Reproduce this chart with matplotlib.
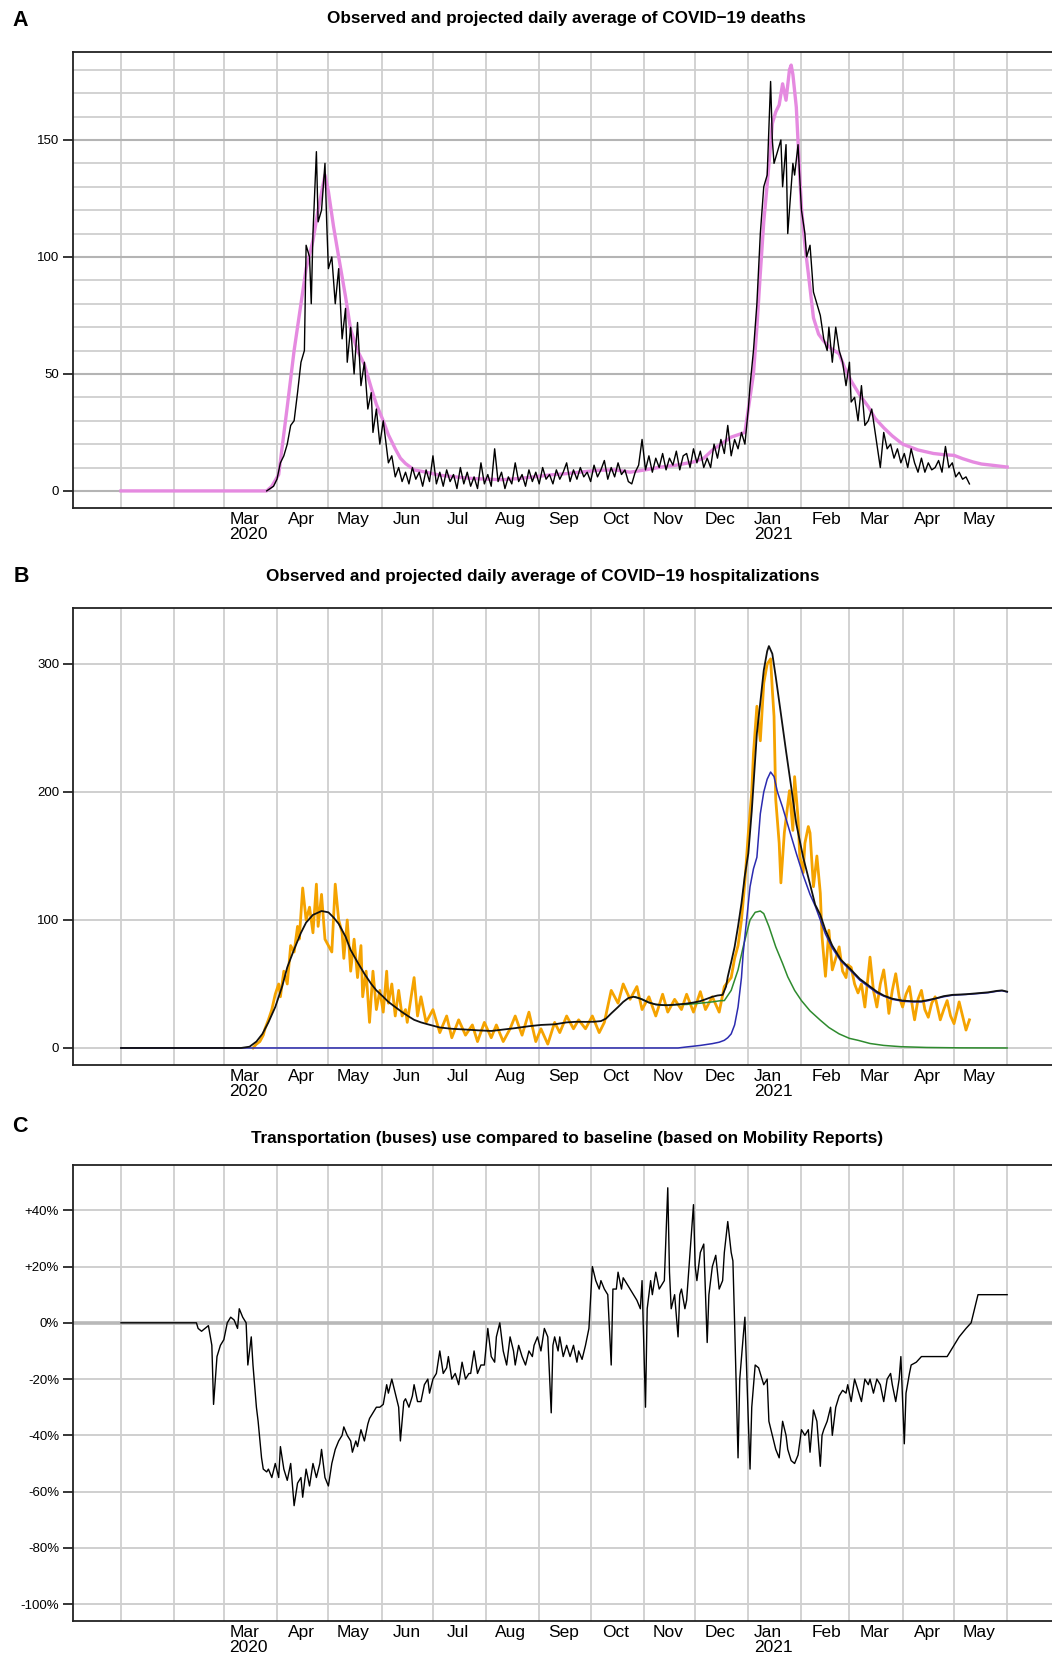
import numpy as np
import matplotlib
matplotlib.use('Agg')
import matplotlib.pyplot as plt
import matplotlib.dates as mdates

plt.rcParams['font.family'] = ['Liberation Sans', 'DejaVu Sans']

# ---------------- DATA (day offsets from 2020-01-01) ----------------
deaths_obs_day = [85, 87, 89, 91, 93, 95, 97, 99, 101, 103, 105, 107, 108, 110, 111, 112, 114, 115, 117, 119,
                  120, 121, 123, 125, 127, 129, 131, 132, 134, 136, 138, 140, 142, 144, 146, 147, 149, 151, 153, 155,
                  156, 158, 160, 162, 164, 166, 168, 170, 172, 174, 176, 178, 180, 182, 184, 186, 188, 190, 192, 194,
                  196, 198, 200, 202, 204, 206, 208, 210, 212, 214, 216, 218, 220, 222, 224, 226, 228, 230, 232, 234,
                  236, 238, 240, 242, 244, 246, 248, 250, 252, 254, 256, 258, 260, 262, 264, 266, 268, 270, 272, 274,
                  276, 278, 280, 282, 284, 286, 288, 290, 292, 294, 296, 298, 300, 302, 304, 306, 308, 310, 312, 314,
                  316, 318, 320, 322, 324, 326, 328, 330, 332, 334, 336, 338, 340, 342, 344, 346, 348, 350, 352, 354,
                  356, 358, 360, 362, 364, 366, 367, 369, 371, 373, 375, 377, 379, 380, 381, 383, 385, 386, 388, 389,
                  390, 392, 393, 395, 397, 399, 400, 402, 404, 406, 408, 410, 412, 413, 415, 417, 419, 421, 423, 425,
                  426, 428, 430, 432, 434, 436, 438, 440, 441, 443, 445, 447, 449, 451, 453, 455, 457, 459, 461, 463,
                  465, 467, 469, 471, 473, 475, 477, 479, 481, 483, 485, 487, 489, 491, 493, 495]
deaths_obs_val = [0, 1, 2, 5, 12, 15, 20, 28, 30, 42, 55, 60, 105, 100, 80, 110, 145, 115, 120, 140,
                  115, 95, 100, 80, 95, 65, 78, 55, 70, 50, 72, 45, 55, 35, 42, 25, 35, 20, 30, 18,
                  12, 15, 6, 10, 4, 8, 3, 10, 5, 8, 2, 9, 4, 15, 3, 8, 2, 9, 4, 7,
                  1, 10, 3, 8, 2, 6, 1, 12, 3, 7, 2, 18, 4, 8, 1, 6, 3, 12, 4, 7,
                  2, 9, 4, 8, 3, 10, 5, 7, 3, 9, 5, 8, 12, 4, 9, 5, 10, 6, 8, 4,
                  11, 6, 9, 13, 5, 10, 6, 12, 7, 9, 4, 3, 8, 11, 22, 9, 15, 8, 14, 10,
                  16, 9, 14, 11, 17, 9, 15, 16, 10, 18, 12, 17, 10, 14, 10, 20, 14, 22, 16, 28,
                  15, 22, 18, 25, 20, 35, 45, 60, 80, 110, 130, 135, 175, 150, 140, 145, 150, 130, 148, 110,
                  120, 140, 135, 148, 120, 110, 100, 105, 85, 80, 75, 65, 60, 70, 55, 70, 60, 55, 45, 55,
                  38, 40, 30, 45, 28, 30, 35, 25, 20, 10, 25, 18, 20, 14, 18, 12, 16, 10, 18, 12,
                  8, 14, 8, 12, 9, 10, 13, 8, 19, 10, 12, 6, 8, 5, 6, 3]

deaths_proj_day = [0, 85, 88, 92, 97, 101, 105, 108, 112, 115, 119, 121, 124, 127, 131, 134, 138, 142, 146, 149,
                   153, 156, 160, 163, 166, 171, 178, 186, 195, 205, 214, 223, 232, 241, 250, 260, 270, 278, 288, 297,
                   306, 315, 324, 334, 340, 345, 350, 356, 360, 364, 366, 369, 371, 373, 375, 377, 379, 380, 382, 384,
                   386, 388, 390, 391, 392, 394, 396, 397, 399, 401, 404, 407, 410, 414, 419, 422, 426, 431, 436, 440,
                   445, 450, 456, 465, 474, 480, 486, 491, 497, 502, 508, 517]
deaths_proj_val = [0, 0, 2, 7, 36, 60, 80, 95, 107, 120, 135, 128, 113, 100, 83, 69, 60, 54, 44, 37,
                   30, 24, 18, 14, 11.7, 9, 8, 6.7, 6, 5.3, 5, 4.8, 5.3, 6, 6.8, 7.4, 8.2, 8.8, 9, 8,
                   9, 10.2, 11, 12.4, 14, 17.4, 20, 23, 24, 25, 35, 50, 70, 93, 115, 131, 148, 157, 162, 165,
                   174, 167, 180, 182, 178, 164, 135, 121, 105, 93, 74, 67, 64, 61, 58.6, 53, 47, 41, 36, 31,
                   27, 23.5, 20, 17.5, 16, 15.5, 15.2, 13.8, 12.4, 11.5, 11, 10.2]

hosp_obs_day = [77, 79, 81, 83, 84, 86, 88, 90, 92, 93, 95, 97, 99, 101, 103, 104, 106, 108, 110, 112,
                114, 115, 117, 119, 121, 123, 125, 127, 129, 130, 132, 134, 136, 138, 140, 141, 143, 145, 147, 149,
                151, 153, 155, 156, 158, 160, 162, 164, 166, 167, 171, 173, 175, 178, 182, 186, 190, 193, 197, 201,
                205, 208, 212, 216, 219, 223, 227, 230, 234, 238, 242, 245, 249, 253, 256, 260, 264, 267, 271, 275,
                279, 282, 286, 290, 293, 297, 301, 304, 308, 312, 316, 319, 323, 327, 330, 334, 338, 341, 345, 349,
                352, 356, 358, 360, 362, 364, 366, 368, 369, 371, 373, 375, 377, 379, 380, 381, 382, 384, 385, 387,
                390, 392, 393, 395, 396, 398, 399, 401, 402, 404, 406, 408, 409, 411, 413, 415, 417, 419, 421, 423,
                424, 426, 428, 430, 432, 434, 437, 439, 441, 443, 445, 447, 448, 450, 452, 454, 456, 458, 460, 462,
                463, 465, 467, 469, 471, 473, 475, 477, 478, 480, 482, 484, 486, 488, 489, 491, 493, 495]
hosp_obs_val = [0, 3, 5, 10, 15, 22, 30, 42, 50, 40, 60, 50, 80, 75, 95, 85, 125, 100, 110, 90,
                128, 95, 120, 85, 80, 75, 128, 100, 90, 70, 100, 60, 85, 55, 80, 40, 60, 20, 60, 30,
                45, 28, 60, 35, 50, 25, 45, 25, 30, 20, 55, 25, 40, 20, 30, 12, 25, 8, 22, 10,
                18, 5, 20, 8, 18, 5, 15, 25, 10, 28, 5, 15, 3, 20, 12, 25, 15, 22, 15, 25,
                12, 20, 45, 35, 50, 38, 48, 30, 40, 25, 42, 28, 38, 30, 42, 28, 44, 30, 40, 28,
                48, 55, 70, 80, 100, 130, 168, 200, 230, 267, 240, 285, 300, 304, 280, 259, 194, 160, 129, 168,
                201, 170, 212, 180, 150, 137, 160, 173, 168, 126, 150, 121, 87, 56, 92, 61, 70, 79, 60, 55,
                65, 63, 50, 43, 50, 32, 71, 45, 32, 50, 61, 40, 27, 45, 58, 40, 32, 42, 48, 30,
                22, 38, 45, 30, 24, 35, 40, 28, 22, 30, 37, 25, 19, 30, 36, 25, 14, 22]

hosp_total_day = [0, 70, 75, 79, 82.5, 86, 90, 94, 97, 101, 105, 108, 112, 117, 121, 124, 127, 131, 134, 138,
                  142, 146, 149, 153, 156, 160, 164, 168, 171, 175, 179, 186, 193, 201, 208, 216, 223, 230, 238, 245,
                  253, 260, 266, 271, 276, 280, 283, 286, 290, 293, 296, 299, 302, 304, 308, 312, 316, 319, 325, 330,
                  334, 338, 342, 345, 348, 351, 353, 354, 356, 358, 360, 362, 364, 366, 368, 371, 373, 375, 377, 378,
                  380, 382, 384.5, 388, 391, 394, 398, 402, 405, 408, 411, 415, 420, 426, 431, 437, 441, 445, 450, 456,
                  462, 467, 471, 475, 480, 485, 493, 500, 506, 511, 514, 517]
hosp_total_val = [0, 0, 1, 5, 11, 20, 32, 48, 63, 77, 90, 98, 104, 107, 106, 102, 97, 87, 76.5, 67,
                  58, 50, 45, 40, 36, 32, 28, 24.5, 22, 20, 18.5, 16, 15, 14.4, 13.8, 13.3, 14.4, 15.5, 17, 18,
                  18.5, 20, 20.5, 20.4, 20.5, 21, 23, 27, 32, 36, 39, 40, 39, 38, 35.5, 34, 33.5, 33.4, 34, 34.7,
                  35.5, 36.6, 38.5, 40, 41, 41.5, 48, 55.6, 67, 79, 95, 113, 135, 152, 185, 246, 270, 295, 310, 314,
                  308, 290, 266, 232, 204, 175, 149, 128, 112, 104, 92, 80, 69, 61, 54, 48, 44, 41, 38.5, 37,
                  36.5, 36.5, 37.5, 38.6, 40.5, 41.5, 42, 42.8, 43.5, 44.6, 45, 44]

hosp_new_day = [0, 325, 330, 338, 345, 349, 352, 354, 356, 358, 360, 362, 363, 365, 367, 369, 371, 373, 375, 377,
                379, 381, 383, 386, 390, 394, 398, 402, 405, 408, 411, 415, 420, 426, 431, 437, 441, 445, 450, 456,
                462, 467, 471, 475, 480, 485, 493, 500, 506, 511, 514, 517]
hosp_new_val = [0, 0, 0.8, 2, 3.4, 4.5, 6, 8, 11, 18, 32, 55, 74, 100, 126, 140, 149, 183, 200, 210,
                215.6, 212, 200, 188, 170, 152, 135, 120, 111, 100, 89, 78, 68, 60, 53, 47, 43, 40.5, 38, 36.5,
                36, 36, 37, 38.5, 40, 41.2, 41.8, 42.5, 43.2, 44.3, 44.7, 43.8]

hosp_old_day = [300, 304, 308, 312, 316, 319, 325, 330, 338, 345, 350, 352, 356, 360, 363, 367, 370, 373, 375, 378,
                382, 386, 389, 393, 397, 402, 408, 413, 419, 425, 430, 437, 445, 455, 470, 490, 517]
hosp_old_val = [40, 38, 35.5, 34, 33.5, 33.4, 34, 34, 35, 36, 37, 37, 45, 61, 79, 100, 106, 107, 105, 95,
                79, 66, 55.6, 45, 37, 29, 21.7, 16, 11, 7.5, 6, 3.5, 2, 1, 0.4, 0.1, 0]

bus_day = [0, 44, 45, 47, 49, 51, 53, 54, 56, 58, 60, 62, 64, 66, 68, 69, 71, 73, 74, 76,
           77, 79, 80, 82, 83, 85, 86, 88, 90, 92, 93, 95, 97, 99, 101, 103, 105, 106, 108, 110,
           112, 114, 116, 117, 119, 121, 123, 125, 127, 129, 130, 132, 134, 135, 137, 138, 140, 142, 144, 145,
           147, 149, 151, 153, 155, 156, 158, 160, 162, 163, 165, 166, 168, 170, 171, 173, 175, 177, 179, 180,
           182, 184, 186, 188, 190, 191, 193, 195, 197, 199, 201, 203, 204, 206, 208, 210, 212, 214, 216, 218,
           219, 221, 223, 225, 227, 229, 230, 232, 234, 236, 238, 240, 241, 243, 245, 247, 249, 251, 252, 253,
           255, 256, 258, 260, 262, 264, 266, 267, 269, 271, 273, 275, 277, 279, 280, 282, 284, 286, 287, 289,
           290, 292, 293, 295, 297, 299, 301, 303, 304, 306, 307, 309, 310, 312, 314, 316, 317, 319, 320, 321,
           323, 325, 326, 327, 329, 330, 332, 334, 335, 336, 338, 340, 342, 343, 345, 347, 349, 351, 352, 354,
           356, 357, 358, 360, 361, 363, 364, 366, 367, 368, 370, 372, 373, 375, 377, 378, 380, 382, 384, 386,
           388, 389, 391, 393, 395, 397, 399, 401, 402, 404, 406, 408, 409, 410, 412, 414, 415, 417, 419, 421,
           423, 424, 426, 428, 430, 432, 434, 436, 437, 439, 441, 443, 445, 447, 449, 450, 452, 454, 455, 457,
           458, 460, 461, 464, 467, 482, 484, 486, 489, 493, 496, 498, 500, 517]
bus_val = [0, 0, -2, -3, -2, -1, -8, -29, -12, -8, -6, 0, 2, 1, -2, 5, 2, 0, -15, -5,
           -15, -30, -35, -48, -52, -53, -52, -55, -50, -55, -44, -52, -56, -50, -65, -57, -55, -62, -52, -58,
           -50, -55, -50, -45, -55, -58, -50, -45, -42, -40, -37, -40, -42, -46, -42, -44, -38, -42, -36, -34,
           -32, -30, -30, -29, -22, -25, -20, -25, -30, -42, -28, -27, -30, -26, -22, -28, -28, -22, -20, -25,
           -20, -18, -10, -18, -16, -12, -20, -18, -22, -14, -20, -18, -18, -10, -18, -15, -15, -2, -12, -14,
           -5, 0, -10, -15, -5, -10, -15, -8, -12, -15, -10, -12, -8, -5, -10, -2, -5, -32, -8, -5,
           -10, -5, -12, -8, -12, -8, -14, -10, -13, -8, -2, 20, 15, 12, 15, 12, 10, -15, 12, 12,
           18, 12, 16, 14, 12, 10, 8, 5, 15, -30, 5, 15, 10, 18, 12, 14, 15, 48, 18, 5,
           10, -5, 10, 12, 5, 8, 25, 42, 20, 15, 25, 28, -7, 10, 20, 24, 12, 15, 25, 36,
           25, 22, 0, -48, -20, -5, 2, -35, -52, -30, -15, -16, -18, -22, -20, -35, -40, -45, -48, -35,
           -40, -45, -49, -50, -47, -38, -40, -38, -46, -31, -35, -51, -40, -38, -35, -30, -40, -30, -26, -24,
           -25, -22, -28, -20, -24, -28, -20, -22, -20, -25, -20, -22, -28, -20, -18, -22, -28, -20, -12, -43,
           -25, -18, -15, -14, -12, -12, -10, -8, -5, -2, 0, 5, 10, 10]

month_labels = ['Mar\n2020', 'Apr', 'May', 'Jun', 'Jul', 'Aug', 'Sep', 'Oct', 'Nov', 'Dec',
                'Jan\n2021', 'Feb', 'Mar', 'Apr', 'May']
label_months = ['2020-03', '2020-04', '2020-05', '2020-06', '2020-07', '2020-08', '2020-09', '2020-10',
                '2020-11', '2020-12', '2021-01', '2021-02', '2021-03', '2021-04', '2021-05']
grid_months = ['2020-01', '2020-02'] + label_months + ['2021-06']

titles = ['Observed and projected daily average of COVID\u221219 deaths',
          'Observed and projected daily average of COVID\u221219 hospitalizations',
          'Transportation (buses) use compared to baseline (based on Mobility Reports)']
panel_letters = ['A', 'B', 'C']
bus_ticks = [40, 20, 0, -20, -40, -60, -80, -100]
bus_tick_labels = ['+40%', '+20%', '0%', '-20%', '-40%', '-60%', '-80%', '-100%']

# ---------------- helpers ----------------
BASE = mdates.date2num(np.datetime64('2020-01-01'))
PX_PER_DAY = 1.714


def dx(days):
    return BASE + np.asarray(days, dtype=float)


W, H = 1052, 1659
fig = plt.figure(figsize=(W / 100, H / 100), dpi=100)


def make_axes(top, bottom, left=73, right=1052):
    return fig.add_axes([left / W, 1 - bottom / H, (right - left) / W, (bottom - top) / H])


grid_x = [mdates.date2num(np.datetime64(m + '-01')) for m in grid_months]
label_x = [mdates.date2num(np.datetime64(m + '-01')) + 14.5 for m in label_months]
xlim = (BASE - (121 - 73) / PX_PER_DAY, BASE + (1052 - 121) / PX_PER_DAY)

GRID = '#cfcfcf'


def style(ax, ylim):
    ax.set_xlim(*xlim)
    ax.set_ylim(*ylim)
    ax.set_axisbelow(True)
    ax.set_xticks(grid_x, minor=True)
    ax.set_xticks(label_x)
    ax.set_xticklabels(month_labels, fontsize=12.5)
    for lbl in ax.get_xticklabels():
        lbl.set_multialignment('left')
        lbl.set_linespacing(0.95)
    ax.tick_params(axis='x', which='both', length=0, pad=3)
    ax.tick_params(axis='y', which='major', length=7, width=1.1, labelsize=9.5, pad=3)
    ax.tick_params(axis='y', which='minor', length=0)
    ax.grid(True, axis='x', which='minor', color=GRID, lw=1.3)
    ax.grid(False, axis='x', which='major')
    ax.spines['right'].set_visible(False)
    for s in ['left', 'bottom', 'top']:
        ax.spines[s].set_linewidth(1.3)
        ax.spines[s].set_color('#222222')


# ---------------- Panel A ----------------
axA = make_axes(52, 508)
style(axA, (-7.3, 187.6))
axA.set_yticks([0, 50, 100, 150])
axA.set_yticks(np.arange(0, 190, 10), minor=True)
axA.grid(True, axis='y', which='minor', color=GRID, lw=1.3)
axA.grid(True, axis='y', which='major', color='#b4b4b4', lw=1.5)
axA.plot(dx(deaths_proj_day), deaths_proj_val, color='#e58ae0', lw=2.4, zorder=3)
axA.plot(dx(deaths_obs_day), deaths_obs_val, color='black', lw=1.0, zorder=4)

# ---------------- Panel B ----------------
axB = make_axes(608, 1065)
style(axB, (-13.3, 343.75))
axB.set_yticks([0, 100, 200, 300])
axB.grid(True, axis='y', which='major', color=GRID, lw=1.4)
axB.plot(dx(hosp_obs_day), hosp_obs_val, color='#f5a300', lw=2.0, zorder=3)
axB.plot(dx(hosp_old_day), hosp_old_val, color='#2e8b2e', lw=1.1, zorder=4)
axB.plot(dx(hosp_new_day), hosp_new_val, color='#2b2bb0', lw=1.1, zorder=5)
axB.plot(dx(hosp_total_day), hosp_total_val, color='#111111', lw=1.3, zorder=6)

# ---------------- Panel C ----------------
axC = make_axes(1165, 1621)
style(axC, (-106, 56.1))
axC.set_yticks(bus_ticks)
axC.set_yticklabels(bus_tick_labels)
axC.grid(True, axis='y', which='major', color=GRID, lw=1.4)
axC.axhline(0, color='#b8b8b8', lw=2.6, zorder=1)
axC.plot(dx(bus_day), bus_val, color='black', lw=1.0, zorder=4)

# ---------------- titles & letters ----------------
title_pos = [(566, 19), (543, 577), (567, 1138)]
letter_pos = [(20, 20), (21, 577), (20, 1127)]
for t, (cx, cy) in zip(titles, title_pos):
    fig.text(cx / W, 1 - cy / H, t, ha='center', va='center', fontsize=12.3, fontweight='bold')
for l, (cx, cy) in zip(panel_letters, letter_pos):
    fig.text(cx / W, 1 - cy / H, l, ha='center', va='center', fontsize=15.5, fontweight='bold')

fig.savefig('out.png', dpi=100, facecolor='white')
